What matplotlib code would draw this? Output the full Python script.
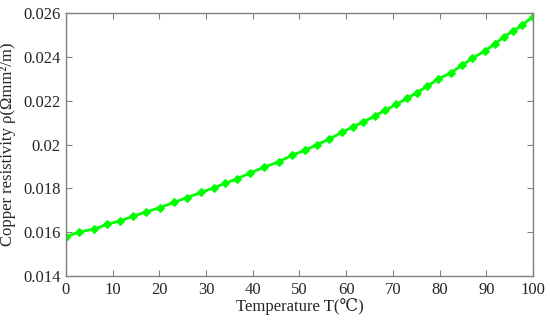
import matplotlib
matplotlib.use("Agg")
import matplotlib.pyplot as plt

# temperature (degC) and copper resistivity
temperature = [0.0, 2.8, 6.0, 8.8, 11.6, 14.3, 17.1, 20.1, 23.1, 25.9,
               29.0, 31.7, 34.1, 36.7, 39.5, 42.5, 45.6, 48.4, 51.2, 53.8,
               56.3, 59.1, 61.4, 63.5, 66.2, 68.4, 70.7, 73.1, 75.1, 77.3,
               79.7, 82.5, 84.9, 87.0, 89.7, 91.8, 93.8, 95.8, 97.7, 100.0]
resistivity = [0.01579, 0.01601, 0.01614, 0.01636, 0.01652, 0.01672, 0.01692, 0.01712, 0.01736, 0.01758,
               0.01782, 0.01803, 0.01823, 0.01844, 0.01871, 0.01897, 0.01922, 0.01951, 0.01974, 0.02000,
               0.02024, 0.02056, 0.02080, 0.02101, 0.02131, 0.02157, 0.02183, 0.02211, 0.02236, 0.02265,
               0.02299, 0.02328, 0.02363, 0.02393, 0.02427, 0.02459, 0.02491, 0.02519, 0.02545, 0.02583]

x_ticks = [0, 10, 20, 30, 40, 50, 60, 70, 80, 90, 100]
y_ticks = [0.014, 0.016, 0.018, 0.02, 0.022, 0.024, 0.026]
y_ticklabels = ["0.014", "0.016", "0.018", "0.02", "0.022", "0.024", "0.026"]

plt.rcParams["font.family"] = ["Liberation Serif", "DejaVu Serif"]
plt.rcParams["mathtext.fontset"] = "stix"

fig = plt.figure(figsize=(5.5, 3.21), dpi=100)
ax = fig.add_axes([0.12, 0.14, 0.849, 0.8195])

ax.plot(temperature, resistivity, "-D", color="#00ff00", lw=2,
        markersize=4, markeredgewidth=0.8, markeredgecolor="#00ff00")

ax.set_xlim(0, 100)
ax.set_ylim(0.014, 0.026)
ax.set_xticks(x_ticks)
ax.set_yticks(y_ticks)
ax.set_yticklabels(y_ticklabels)

for s in ax.spines.values():
    s.set_color("#808080")
    s.set_linewidth(1.0)
ax.tick_params(direction="in", top=True, right=True, length=4, width=0.8,
               color="#808080", labelcolor="#262626", labelsize=12, pad=4)

ax.set_xlabel("Temperature T(℃)", fontsize=12, color="#262626", labelpad=0)
ax.set_ylabel("Copper resistivity ρ(Ωmm²/m)", fontsize=12, color="#262626", labelpad=5)

fig.savefig("out.png", dpi=100)
